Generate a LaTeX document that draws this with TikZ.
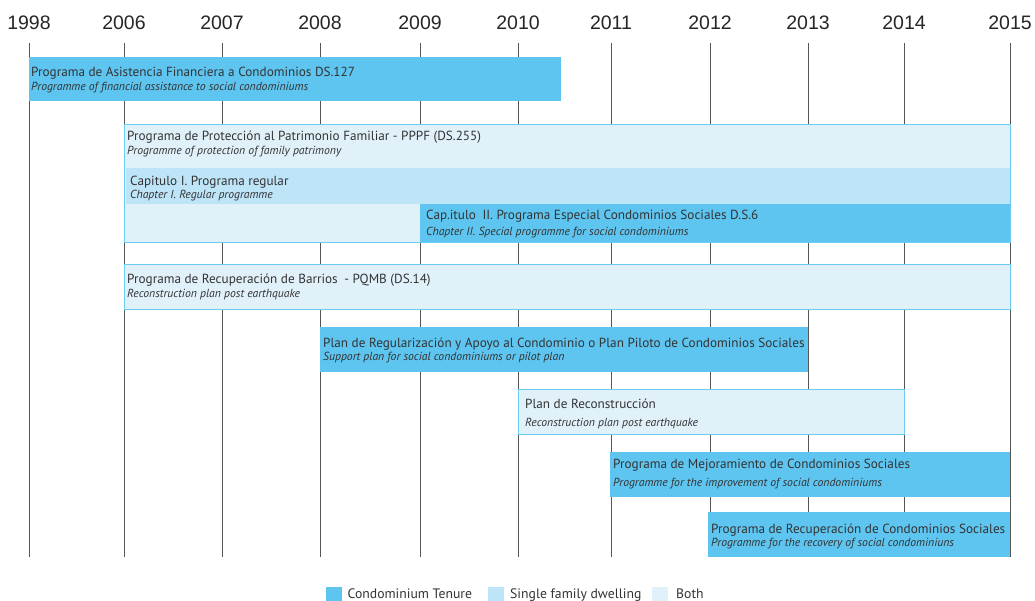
\documentclass[tikz,border=0pt]{standalone}
\usepackage{fontspec}
\newfontfamily\yrfont{Liberation Sans}
\newfontfamily\ptfont{PT Sans}
\definecolor{cond}{HTML}{5EC5F0}
\definecolor{single}{HTML}{BEE4F8}
\definecolor{both}{HTML}{E1F1FA}
\definecolor{edge}{HTML}{6CCBF2}
\definecolor{txt}{HTML}{333333}
\definecolor{grid}{HTML}{555555}
\begin{document}
\begin{tikzpicture}[x=1pt,y=-1pt,
  yr/.style={font=\yrfont\fontsize{19.5}{20}\selectfont, text=black!85, inner sep=0pt, anchor=base},
  gl/.style={draw=grid, line width=1pt},
  barbox/.style={anchor=north west, inner sep=0pt, outer sep=0pt},
  cbar/.style={barbox, fill=cond},
  sbar/.style={barbox, fill=single},
  bbar/.style={barbox, fill=both, draw=edge, line width=1pt},
  ttl/.style={font=\ptfont\fontsize{13.2}{14}\selectfont, text=txt, inner sep=0pt, anchor=base west},
  sub/.style={font=\ptfont\itshape\fontsize{11.7}{12}\selectfont, text=txt, inner sep=0pt, anchor=base west},
  leg/.style={font=\ptfont\fontsize{13.7}{15}\selectfont, text=txt, inner sep=0pt, anchor=base west},
  sq/.style={anchor=north west, inner sep=0pt, minimum width=16pt, minimum height=16pt}
]
\useasboundingbox[fill=white] (0,0) rectangle (1035,600);
% year labels
\foreach \x/\y in {29/1998,124/2006,222/2007,320/2008,420/2009,518/2010,611/2011,710/2012,808/2013,904/2014,1010/2015}{
  \node[yr] (y\y) at (\x,29) {\y};
  \coordinate (a\y) at (\x,43);
  \coordinate (z\y) at (\x,557);
  \draw[gl] (a\y) -- (z\y);
}
% bars
\node[cbar, minimum width=532pt, minimum height=44pt] (b1) at (29,57) {};
\node[ttl] (t1) at (31,76) {Programa de Asistencia Financiera a Condominios DS.127};
\node[sub] (s1) at (31,90.5) {Programme of financial assistance to social condominiums};

\node[bbar, minimum width=886pt, minimum height=118pt] (b2) at (124,124) {};
\node[ttl] (t2) at (127,140) {Programa de Protección al Patrimonio Familiar - PPPF (DS.255)};
\node[sub] (s2) at (127,154.5) {Programme of protection of family patrimony};

\node[sbar, minimum width=884pt, minimum height=36pt] (b3) at (125.5,168) {};
\node[ttl] (t3) at (130,185) {Capitulo I. Programa regular};
\node[sub] (s3) at (130,198.5) {Chapter I. Regular programme};

\node[cbar, minimum width=590pt, minimum height=38pt] (b4) at (420,204) {};
\node[ttl] (t4) at (426,219.5) {Cap.itulo\enspace II. Programa Especial Condominios Sociales D.S.6};
\node[sub] (s4) at (426,235) {Chapter II. Special programme for social condominiums};

\node[bbar, minimum width=886pt, minimum height=45pt] (b5) at (124,264) {};
\node[ttl] (t5) at (127,283) {Programa de Recuperación de Barrios\enspace - PQMB (DS.14)};
\node[sub] (s5) at (127,297.5) {Reconstruction plan post earthquake};

\node[cbar, minimum width=488pt, minimum height=45pt] (b6) at (320,327) {};
\node[ttl] (t6) at (323,347) {Plan de Regularización y Apoyo al Condominio o Plan Piloto de Condominios Sociales};
\node[sub] (s6) at (323,360.5) {Support plan for social condominiums or pilot plan};

\node[bbar, minimum width=386pt, minimum height=45pt] (b7) at (518,389) {};
\node[ttl] (t7) at (525,408.5) {Plan de Reconstrucción};
\node[sub] (s7) at (525,426.5) {Reconstruction plan post earthquake};

\node[cbar, minimum width=400pt, minimum height=45pt] (b8) at (610,452) {};
\node[ttl] (t8) at (613,468.5) {Programa de Mejoramiento de Condominios Sociales};
\node[sub] (s8) at (613,486.5) {Programme for the improvement of social condominiums};

\node[cbar, minimum width=302pt, minimum height=45pt] (b9) at (708,512) {};
\node[ttl] (t9) at (711,533) {Programa de Recuperación de Condominios Sociales};
\node[sub] (s9) at (711,546.5) {Programme for the recovery of social condominiuns};

% legend
\node[sq, fill=cond] (q1) at (326,587) {};
\node[leg] (l1) at (347.5,598) {Condominium Tenure};
\node[sq, fill=single] (q2) at (488,587) {};
\node[leg] (l2) at (510,598) {Single family dwelling};
\node[sq, fill=both] (q3) at (652,587) {};
\node[leg] (l3) at (676,598) {Both};
\end{tikzpicture}
\end{document}
